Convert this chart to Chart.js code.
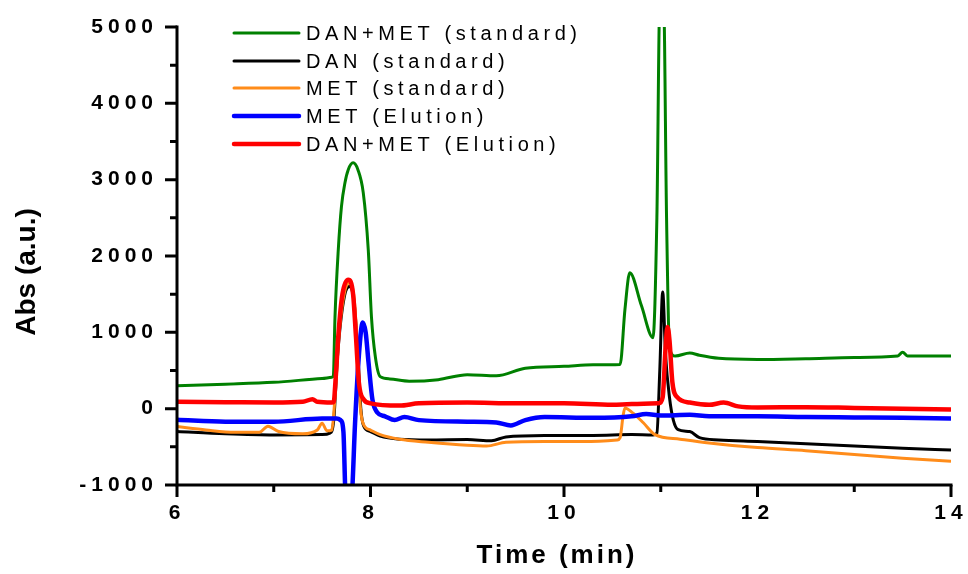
<!DOCTYPE html>
<html>
<head>
<meta charset="utf-8">
<script src="https://cdn.jsdelivr.net/npm/chart.js@4.4.1/dist/chart.umd.min.js"></script>
<style>
  html, body { margin: 0; padding: 0; background: #fff; }
  #wrap { width: 968px; height: 574px; position: relative; }
</style>
</head>
<body>
<div id="wrap"><canvas id="chart"></canvas></div>
<script>
// retention time (min) and absorbance (a.u.)
const danMetStdTime = [6.0, 6.5, 7.0, 7.5, 7.6, 7.616, 7.633, 7.667, 7.70, 7.736, 7.77, 7.82, 7.87, 7.925, 7.977, 8.01, 8.05, 8.1, 8.2, 8.4, 8.7, 9.0, 9.3, 9.6, 10.0, 10.3, 10.58, 10.63, 10.68, 10.8, 10.92, 10.96, 10.99, 11.03, 11.06, 11.09, 11.15, 11.3, 11.4, 11.6, 12.0, 12.5, 13.0, 13.45, 13.5, 13.55, 14.0];
const danMetStdAbs  = [300, 320, 345, 395, 410, 430, 1200, 2080, 2650, 2960, 3130, 3220, 3130, 2830, 2080, 1200, 680, 420, 390, 360, 380, 445, 430, 530, 555, 575, 580, 1300, 1780, 1350, 930, 2500, 5300, 5300, 2500, 800, 690, 730, 700, 660, 645, 655, 670, 690, 740, 690, 690];

const danStdTime = [6.0, 6.5, 7.0, 7.5, 7.58, 7.62, 7.66, 7.72, 7.78, 7.83, 7.87, 7.9, 7.93, 8.0, 8.1, 8.3, 8.6, 9.0, 9.25, 9.4, 9.8, 10.3, 10.7, 10.92, 10.96, 10.99, 11.02, 11.05, 11.09, 11.13, 11.18, 11.3, 11.4, 11.6, 12.0, 12.5, 13.0, 13.5, 14.0];
const danStdAbs  = [-300, -330, -345, -340, -320, -150, 700, 1400, 1600, 1400, 700, 0, -230, -300, -360, -400, -410, -405, -420, -370, -350, -350, -340, -345, -320, 500, 1530, 700, 150, -150, -275, -300, -380, -410, -430, -460, -490, -520, -540];

const metStdTime = [6.0, 6.3, 6.6, 6.85, 6.94, 7.05, 7.3, 7.45, 7.5, 7.55, 7.6, 7.63, 7.67, 7.72, 7.78, 7.83, 7.86, 7.89, 7.92, 8.0, 8.1, 8.3, 8.6, 9.0, 9.2, 9.4, 9.8, 10.2, 10.55, 10.58, 10.61, 10.63, 10.71, 10.82, 10.94, 11.2, 11.5, 12.0, 12.5, 13.0, 13.5, 14.0];
const metStdAbs  = [-235, -280, -310, -310, -230, -300, -330, -280, -190, -290, -280, 100, 900, 1450, 1650, 1450, 900, 100, -180, -280, -340, -400, -440, -480, -490, -440, -430, -430, -410, -380, -100, 10, -55, -185, -340, -400, -450, -510, -550, -600, -650, -690];

const metElTime = [6.0, 6.5, 7.0, 7.5, 7.65, 7.69, 7.72, 7.74, 7.77, 7.81, 7.84, 7.88, 7.92, 7.95, 7.98, 8.02, 8.07, 8.15, 8.25, 8.35, 8.5, 9.0, 9.3, 9.45, 9.6, 9.8, 10.3, 10.7, 10.85, 11.0, 11.3, 11.5, 12.0, 12.5, 13.0, 13.5, 14.0];
const metElAbs  = [-145, -170, -170, -130, -130, -150, -300, -1100, -1600, -1100, -200, 700, 1130, 1000, 600, 120, -50, -100, -150, -110, -150, -170, -180, -220, -150, -110, -120, -100, -70, -90, -80, -100, -100, -110, -115, -120, -130];

const danMetElTime = [6.0, 6.5, 7.0, 7.3, 7.4, 7.45, 7.6, 7.62, 7.64, 7.67, 7.71, 7.77, 7.82, 7.85, 7.88, 7.93, 8.0, 8.3, 8.5, 9.0, 9.5, 10.0, 10.5, 10.7, 10.98, 11.02, 11.05, 11.07, 11.09, 11.12, 11.17, 11.3, 11.5, 11.65, 11.8, 12.0, 12.5, 13.0, 13.5, 14.0];
const danMetElAbs  = [90, 85, 80, 90, 125, 90, 80, 90, 400, 1000, 1500, 1690, 1500, 940, 340, 120, 70, 40, 70, 80, 70, 70, 50, 60, 70, 150, 800, 1070, 900, 350, 150, 80, 50, 80, 30, 15, 20, 10, 0, -10];

const seriesLabels = ['DAN+MET (standard)', 'DAN (standard)', 'MET (standard)', 'MET (Elution)', 'DAN+MET (Elution)'];
const seriesColors = ['#008000', '#000000', '#ff8c1a', '#0000ff', '#ff0000'];
const seriesWidths = [3, 3, 3, 4.5, 4.5];

const FONT = '"Liberation Sans", Arial, sans-serif';

function pairs(t, v) {
    return t.map((x, i) => ({ x: x, y: v[i] }));
}

const allData = [
    pairs(danMetStdTime, danMetStdAbs),
    pairs(danStdTime, danStdAbs),
    pairs(metStdTime, metStdAbs),
    pairs(metElTime, metElAbs),
    pairs(danMetElTime, danMetElAbs)
];

// later series lie on top, as in the original plot
const datasets = allData.map((d, i) => ({
    label: seriesLabels[i],
    data: d,
    borderColor: seriesColors[i],
    borderWidth: seriesWidths[i],
    pointRadius: 0,
    cubicInterpolationMode: 'monotone',
    order: 5 - i,
    clip: 0
}));

// spacing for all text
const spacing = {
    id: 'spacing',
    beforeDraw(chart) {
        chart.ctx.letterSpacing = '5px';
    }
};

// axis lines, major/minor ticks, titles and legend box
const decor = {
    id: 'decor',
    afterDatasetsDraw(chart) {
        const { ctx, chartArea: a, scales: { x, y } } = chart;
        ctx.save();
        ctx.strokeStyle = '#000';
        ctx.lineWidth = 3;
        ctx.lineCap = 'square';
        ctx.beginPath();
        ctx.moveTo(a.left, a.top);
        ctx.lineTo(a.left, a.bottom);
        ctx.lineTo(a.right, a.bottom);
        ctx.stroke();

        ctx.lineCap = 'butt';
        ctx.beginPath();
        x.ticks.forEach(t => {
            const px = x.getPixelForValue(t.value);
            const len = t.value % 2 === 0 ? 12 : 7;
            ctx.moveTo(px, a.bottom);
            ctx.lineTo(px, a.bottom + len);
        });
        y.ticks.forEach(t => {
            const py = y.getPixelForValue(t.value);
            const len = t.value % 1000 === 0 ? 12 : 7;
            ctx.moveTo(a.left, py);
            ctx.lineTo(a.left - len, py);
        });
        ctx.stroke();
        ctx.restore();
    },
    afterDraw(chart) {
        const { ctx } = chart;
        ctx.save();
        ctx.fillStyle = '#000';

        // y title
        ctx.letterSpacing = '0px';
        ctx.font = 'bold 28px ' + FONT;
        ctx.textAlign = 'center';
        ctx.textBaseline = 'middle';
        ctx.translate(27, 272);
        ctx.rotate(-Math.PI / 2);
        ctx.fillText('Abs (a.u.)', 0, 0);
        ctx.setTransform(1, 0, 0, 1, 0, 0);

        // x title
        ctx.letterSpacing = '3px';
        ctx.font = 'bold 26px ' + FONT;
        ctx.fillText('Time (min)', 557, 556);

        // legend
        ctx.letterSpacing = '4.6px';
        ctx.font = '20px ' + FONT;
        ctx.textAlign = 'left';
        const rowY = [33, 61, 88, 116, 144];
        seriesLabels.forEach((lab, i) => {
            ctx.strokeStyle = seriesColors[i];
            ctx.lineWidth = seriesWidths[i];
            ctx.lineCap = 'round';
            ctx.beginPath();
            ctx.moveTo(234, rowY[i]);
            ctx.lineTo(299, rowY[i]);
            ctx.stroke();
            ctx.fillText(lab, 306, rowY[i] + 1);
        });
        ctx.restore();
    }
};

new Chart(document.getElementById('chart').getContext('2d'), {
    type: 'line',
    data: { datasets: datasets },
    options: {
        responsive: true,
        maintainAspectRatio: false,
        animation: false,
        layout: { padding: { top: 27, right: 17, left: 0, bottom: 0 } },
        plugins: {
            legend: { display: false },
            tooltip: { enabled: false }
        },
        scales: {
            x: {
                type: 'linear',
                min: 6,
                max: 14,
                grid: { display: false, drawTicks: false },
                border: { display: false },
                ticks: {
                    stepSize: 1,
                    autoSkip: false,
                    maxRotation: 0,
                    padding: 16,
                    color: '#000',
                    font: { family: FONT, size: 21, weight: 'bold' },
                    callback: v => (v % 2 === 0 ? String(v) : '')
                },
                afterFit: s => {
                    s.height = 89;
                    s.paddingLeft = 0;
                    s.paddingRight = 0;
                }
            },
            y: {
                min: -1000,
                max: 5000,
                grid: { display: false, drawTicks: false },
                border: { display: false },
                ticks: {
                    stepSize: 500,
                    autoSkip: false,
                    padding: 19,
                    color: '#000',
                    font: { family: FONT, size: 21, weight: 'bold' },
                    callback: v => (v % 1000 === 0 ? String(v) : '')
                },
                afterFit: s => {
                    s.width = 177;
                    s.paddingTop = 0;
                    s.paddingBottom = 0;
                }
            }
        }
    },
    plugins: [spacing, decor]
});
</script>
</body>
</html>
